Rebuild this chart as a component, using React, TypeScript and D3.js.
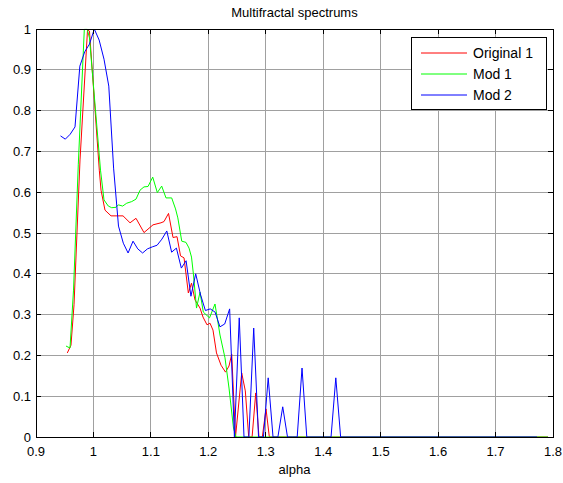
import React from "react";
import * as d3 from "d3";

// values
const redAlpha = [0.9545, 0.9609, 0.9662, 0.9766, 0.9897, 0.9931, 1.0102, 1.0132, 1.0201, 1.0306, 1.041, 1.0515, 1.0637, 1.0741, 1.088, 1.1037, 1.1176, 1.1228, 1.1307, 1.1385, 1.1455, 1.1516, 1.1577, 1.1652, 1.1707, 1.1768, 1.1855, 1.1907, 1.1977, 1.2029, 1.2081, 1.2142, 1.2221, 1.2299, 1.236, 1.2407, 1.2473, 1.2581, 1.2644, 1.2703, 1.2762, 1.2825, 1.2882, 1.294, 1.3004, 1.3062, 1.7914];
const redF = [0.206, 0.225, 0.324, 0.679, 0.998, 0.995, 0.654, 0.605, 0.556, 0.542, 0.542, 0.542, 0.525, 0.536, 0.501, 0.52, 0.525, 0.528, 0.548, 0.489, 0.491, 0.444, 0.439, 0.353, 0.377, 0.336, 0.316, 0.294, 0.275, 0.279, 0.262, 0.206, 0.176, 0.159, 0.174, 0.203, 0, 0.157, 0.113, 0, 0, 0.108, 0, 0, 0.069, 0, 0];

const greenAlpha = [0.9522, 0.9592, 0.9653, 0.9736, 0.9841, 0.9893, 0.9931, 1.0123, 1.0184, 1.0259, 1.0318, 1.0393, 1.0433, 1.0509, 1.0579, 1.0666, 1.0741, 1.0811, 1.088, 1.095, 1.1032, 1.1112, 1.1188, 1.1263, 1.1362, 1.1429, 1.1469, 1.1537, 1.1611, 1.1664, 1.1707, 1.1742, 1.1794, 1.1855, 1.1913, 1.2021, 1.2116, 1.2203, 1.229, 1.236, 1.2438, 1.2482, 1.7914];
const greenF = [0.223, 0.218, 0.36, 0.667, 0.999, 0.999, 0.978, 0.654, 0.581, 0.566, 0.562, 0.563, 0.569, 0.566, 0.573, 0.577, 0.583, 0.605, 0.613, 0.614, 0.637, 0.599, 0.615, 0.586, 0.586, 0.559, 0.537, 0.48, 0.477, 0.463, 0.441, 0.397, 0.316, 0.355, 0.306, 0.292, 0.326, 0.25, 0.194, 0.12, 0.022, 0, 0];

const blueAlpha = [0.9427, 0.951, 0.9595, 0.9679, 0.9763, 0.9848, 0.9931, 1.0015, 1.0099, 1.0184, 1.0267, 1.0351, 1.0436, 1.052, 1.0603, 1.0689, 1.0772, 1.0856, 1.0939, 1.1025, 1.1108, 1.1192, 1.1277, 1.1361, 1.1444, 1.153, 1.1613, 1.1697, 1.178, 1.1866, 1.1949, 1.2033, 1.2118, 1.2202, 1.2285, 1.2371, 1.2454, 1.2538, 1.2621, 1.2706, 1.279, 1.2874, 1.2959, 1.3042, 1.3126, 1.3211, 1.3295, 1.3378, 1.3462, 1.3547, 1.3631, 1.3714, 1.4136, 1.4219, 1.4303, 1.7722];
const blueF = [0.738, 0.73, 0.742, 0.76, 0.909, 0.944, 0.963, 1.0, 0.973, 0.926, 0.86, 0.659, 0.517, 0.475, 0.451, 0.48, 0.461, 0.451, 0.461, 0.466, 0.47, 0.485, 0.505, 0.453, 0.463, 0.414, 0.432, 0.345, 0.4, 0.348, 0.31, 0.314, 0.306, 0.27, 0.277, 0.314, 0, 0.292, 0, 0, 0.267, 0, 0, 0.145, 0, 0, 0.074, 0, 0, 0, 0.169, 0, 0, 0.145, 0, 0];

const seriesNames = ["Original 1", "Mod 1", "Mod 2"];
const seriesColors = ["#ff0000", "#00ff00", "#0000ff"];

const xTicks = [0.9, 1, 1.1, 1.2, 1.3, 1.4, 1.5, 1.6, 1.7, 1.8];
const xTickLabels = ["0.9", "1", "1.1", "1.2", "1.3", "1.4", "1.5", "1.6", "1.7", "1.8"];
const yTicks = [0, 0.1, 0.2, 0.3, 0.4, 0.5, 0.6, 0.7, 0.8, 0.9, 1];
const yTickLabels = ["0", "0.1", "0.2", "0.3", "0.4", "0.5", "0.6", "0.7", "0.8", "0.9", "1"];

const font = "'Liberation Sans', Arial, Helvetica, sans-serif";

export default function App() {
  const width = 563;
  const height = 483;
  const margin = { top: 29, right: 10, bottom: 46, left: 36 };
  const x0 = margin.left;
  const x1 = width - margin.right;
  const y0 = height - margin.bottom;
  const y1 = margin.top;

  const x = d3.scaleLinear().domain([0.9, 1.8]).range([x0, x1]);
  const y = d3.scaleLinear().domain([0, 1]).range([y0, y1]);

  const line = d3
    .line<[number, number]>()
    .x((d) => x(d[0]))
    .y((d) => y(d[1]));

  const series = [
    redAlpha.map((a, i) => [a, redF[i]] as [number, number]),
    greenAlpha.map((a, i) => [a, greenF[i]] as [number, number]),
    blueAlpha.map((a, i) => [a, blueF[i]] as [number, number]),
  ];

  const tickLen = 5;
  const legend = { x: 411, y: 37, w: 135, h: 72 };

  return (
    <svg
      width={width}
      height={height}
      style={{ position: "absolute", left: 0, top: 0, background: "#fff" }}
      fontFamily={font}
    >
      <rect x={0} y={0} width={width} height={height} fill="#fff" />
      <rect x={x0} y={y1} width={x1 - x0} height={y0 - y1} fill="#fff" />

      {/* grid */}
      <g stroke="#a0a0a0" strokeWidth={1} shapeRendering="crispEdges">
        {xTicks.map((t) => (
          <line key={"gx" + t} x1={x(t)} x2={x(t)} y1={y1} y2={y0} />
        ))}
        {yTicks.map((t) => (
          <line key={"gy" + t} x1={x0} x2={x1} y1={y(t)} y2={y(t)} />
        ))}
      </g>

      {/* data */}
      <g fill="none" strokeWidth={1} strokeLinejoin="round">
        {series.map((s, i) => (
          <path key={i} d={line(s) || ""} stroke={seriesColors[i]} />
        ))}
      </g>

      {/* box + ticks */}
      <g stroke="#000" strokeWidth={1} shapeRendering="crispEdges">
        <rect x={x0} y={y1} width={x1 - x0} height={y0 - y1} fill="none" />
        {xTicks.map((t) => (
          <g key={"tx" + t}>
            <line x1={x(t)} x2={x(t)} y1={y0} y2={y0 - tickLen} />
            <line x1={x(t)} x2={x(t)} y1={y1} y2={y1 + tickLen} />
          </g>
        ))}
        {yTicks.map((t) => (
          <g key={"ty" + t}>
            <line x1={x0} x2={x0 + tickLen} y1={y(t)} y2={y(t)} />
            <line x1={x1} x2={x1 - tickLen} y1={y(t)} y2={y(t)} />
          </g>
        ))}
      </g>

      {/* tick labels */}
      <g fontSize={13} fill="#000">
        {xTicks.map((t, i) => (
          <text key={"lx" + t} x={x(t)} y={y0 + 19} textAnchor="middle">
            {xTickLabels[i]}
          </text>
        ))}
        {yTicks.map((t, i) => (
          <text key={"ly" + t} x={x0 - 5} y={y(t) + 4.5} textAnchor="end">
            {yTickLabels[i]}
          </text>
        ))}
      </g>

      <text x={(x0 + x1) / 2} y={y0 + 37} textAnchor="middle" fontSize={13}>
        alpha
      </text>
      <text x={(x0 + x1) / 2} y={y1 - 12} textAnchor="middle" fontSize={13}>
        Multifractal spectrums
      </text>

      {/* legend */}
      <g>
        <rect
          x={legend.x}
          y={legend.y}
          width={legend.w}
          height={legend.h}
          fill="#fff"
          stroke="#000"
          shapeRendering="crispEdges"
        />
        {seriesNames.map((n, i) => {
          const ly = legend.y + 16 + i * 21;
          return (
            <g key={n}>
              <line x1={legend.x + 10} x2={legend.x + 56} y1={ly} y2={ly} stroke={seriesColors[i]} />
              <text x={legend.x + 62} y={ly + 5} fontSize={14}>
                {n}
              </text>
            </g>
          );
        })}
      </g>
    </svg>
  );
}
